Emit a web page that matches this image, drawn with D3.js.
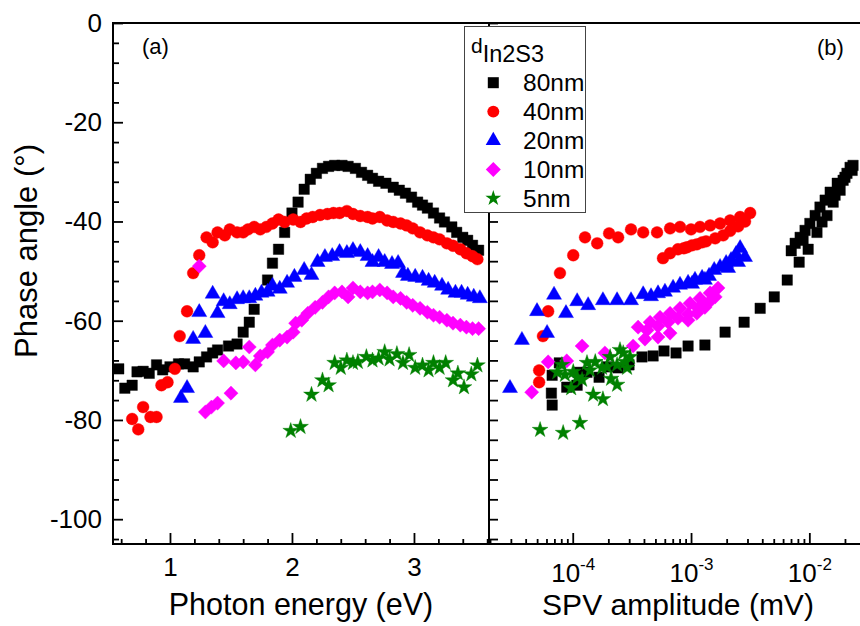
<!DOCTYPE html>
<html>
<head>
<meta charset="utf-8">
<script src="https://cdn.jsdelivr.net/npm/d3@7"></script>
<style>
  html, body { margin: 0; padding: 0; background: #fff; }
  svg text { font-family: "Liberation Sans", Arial, sans-serif; fill: #000; }
</style>
</head>
<body>
<svg id="chart" width="860" height="626"></svg>
<script>
// ---- Panel (a): phase angle (deg) vs photon energy (eV) ----
const a80 = [[0.58,-69.7],[0.63,-73.6],[0.69,-73.0],[0.73,-70.3],[0.78,-70.2],[0.83,-70.6],[0.89,-68.9],[0.94,-69.9],[1.00,-69.3],[1.07,-68.7],[1.12,-68.7],[1.19,-69.3],[1.24,-68.3],[1.30,-67.3],[1.35,-66.5],[1.39,-65.9],[1.48,-65.1],[1.55,-64.7],[1.60,-62.3],[1.65,-60.3],[1.69,-57.7],[1.80,-51.8],[1.84,-48.4],[1.89,-45.6],[1.94,-42.2],[2.00,-38.3],[2.05,-36.1],[2.10,-33.5],[2.15,-31.5],[2.20,-30.3],[2.25,-29.3],[2.30,-28.9],[2.35,-28.7],[2.41,-28.7],[2.46,-28.9],[2.52,-29.3],[2.57,-30.1],[2.62,-30.7],[2.66,-31.3],[2.71,-31.9],[2.77,-32.3],[2.83,-33.1],[2.88,-33.7],[2.93,-34.3],[2.98,-35.1],[3.03,-36.1],[3.07,-36.7],[3.11,-37.3],[3.16,-38.3],[3.21,-39.3],[3.25,-40.1],[3.31,-41.1],[3.35,-42.2],[3.40,-43.2],[3.44,-43.8],[3.48,-44.8],[3.53,-45.8]];
const a40 = [[0.69,-79.8],[0.74,-81.9],[0.78,-77.4],[0.84,-79.4],[0.89,-79.4],[0.93,-73.0],[0.98,-72.4],[1.04,-69.7],[1.08,-63.1],[1.14,-58.1],[1.19,-50.4],[1.24,-46.8],[1.30,-43.2],[1.35,-44.2],[1.39,-42.2],[1.45,-42.8],[1.49,-41.6],[1.55,-42.2],[1.60,-42.2],[1.64,-41.6],[1.69,-41.1],[1.74,-41.6],[1.79,-41.1],[1.84,-40.4],[1.89,-39.6],[1.94,-40.1],[2.01,-39.6],[2.07,-40.1],[2.12,-39.4],[2.17,-39.1],[2.23,-38.7],[2.29,-38.5],[2.34,-38.3],[2.39,-38.3],[2.45,-37.9],[2.50,-38.5],[2.56,-38.9],[2.62,-39.1],[2.66,-39.4],[2.72,-39.1],[2.78,-39.8],[2.83,-40.1],[2.89,-40.4],[2.94,-40.8],[2.99,-41.4],[3.05,-42.2],[3.11,-42.8],[3.16,-43.2],[3.21,-43.6],[3.27,-44.4],[3.32,-44.9],[3.38,-45.6],[3.43,-46.4],[3.48,-47.0],[3.52,-47.6]];
const a20 = [[1.09,-75.6],[1.14,-73.6],[1.19,-63.7],[1.24,-58.3],[1.29,-62.5],[1.35,-54.6],[1.39,-58.5],[1.44,-56.1],[1.49,-56.7],[1.55,-55.7],[1.60,-55.5],[1.65,-55.5],[1.70,-55.0],[1.75,-54.4],[1.80,-54.2],[1.84,-53.0],[1.90,-53.6],[1.96,-52.4],[2.02,-51.2],[2.10,-49.8],[2.16,-50.8],[2.21,-48.2],[2.27,-47.2],[2.33,-47.0],[2.39,-46.2],[2.45,-46.4],[2.50,-45.8],[2.56,-46.2],[2.62,-47.0],[2.66,-48.2],[2.71,-47.2],[2.76,-48.2],[2.82,-48.6],[2.87,-48.4],[2.91,-50.4],[2.95,-51.0],[3.01,-51.2],[3.07,-51.4],[3.12,-52.0],[3.17,-52.4],[3.23,-53.0],[3.28,-53.8],[3.34,-54.4],[3.39,-54.4],[3.44,-54.8],[3.49,-55.2],[3.54,-55.5]];
const a10 = [[1.24,-49.0],[1.29,-78.4],[1.34,-77.4],[1.39,-76.6],[1.50,-74.6],[1.44,-68.1],[1.54,-68.5],[1.60,-68.3],[1.65,-65.3],[1.70,-68.9],[1.74,-67.1],[1.80,-66.3],[1.84,-64.9],[1.90,-63.9],[1.96,-63.3],[2.01,-62.3],[2.03,-60.5],[2.08,-59.9],[2.13,-58.5],[2.19,-57.3],[2.25,-56.3],[2.30,-55.2],[2.35,-54.4],[2.41,-54.2],[2.46,-55.2],[2.50,-53.4],[2.56,-54.2],[2.62,-54.4],[2.66,-54.2],[2.72,-53.8],[2.78,-54.4],[2.83,-55.2],[2.89,-55.5],[2.94,-56.3],[2.99,-56.9],[3.05,-57.5],[3.11,-58.3],[3.16,-58.9],[3.21,-59.3],[3.27,-59.9],[3.32,-60.5],[3.38,-60.9],[3.43,-61.3],[3.48,-61.6],[3.53,-61.6]];
const a5 = [[1.99,-82.2],[2.07,-81.4],[2.16,-74.9],[2.25,-72.0],[2.30,-73.0],[2.35,-68.5],[2.40,-69.5],[2.45,-68.0],[2.50,-68.5],[2.54,-68.3],[2.61,-67.3],[2.66,-68.0],[2.71,-67.6],[2.76,-66.3],[2.80,-67.8],[2.86,-66.7],[2.91,-68.5],[2.96,-66.9],[3.01,-69.5],[3.07,-69.0],[3.12,-70.0],[3.16,-68.5],[3.21,-69.5],[3.26,-68.5],[3.32,-72.0],[3.36,-70.6],[3.41,-73.4],[3.47,-70.8],[3.52,-69.0]];

// ---- Panel (b): phase angle (deg) vs SPV amplitude (mV) ----
const b80 = [[6.7e-5,-77.0],[6.6e-5,-74.6],[6.7e-5,-71.0],[7.7e-5,-68.5],[8.9e-5,-73.4],[1.09e-4,-73.0],[1.11e-4,-70.4],[1.32e-4,-70.4],[1.67e-4,-71.4],[1.99e-4,-69.3],[2.42e-4,-69.5],[2.99e-4,-68.9],[3.85e-4,-67.3],[4.78e-4,-67.1],[5.91e-4,-66.1],[7.47e-4,-66.5],[9.44e-4,-65.1],[1.31e-3,-64.9],[1.94e-3,-62.3],[2.81e-3,-60.3],[3.84e-3,-57.5],[5.05e-3,-55.2],[6.50e-3,-51.8],[8.20e-3,-48.2],[7.03e-3,-45.9],[9.77e-3,-45.6],[7.59e-3,-44.4],[8.36e-3,-43.2],[8.85e-3,-43.8],[9.20e-3,-41.8],[1.16e-2,-42.2],[1.01e-2,-40.4],[1.28e-2,-40.1],[1.12e-2,-38.8],[1.41e-2,-38.8],[1.23e-2,-37.1],[1.36e-2,-35.7],[1.59e-2,-36.1],[1.50e-2,-34.1],[1.65e-2,-34.7],[1.82e-2,-33.7],[1.72e-2,-32.3],[1.93e-2,-31.7],[2.00e-2,-31.1],[2.08e-2,-30.3],[2.30e-2,-29.7],[2.21e-2,-29.1],[2.34e-2,-28.7]];
const b40 = [[5.2e-5,-72.4],[5.2e-5,-70.0],[5.6e-5,-63.1],[6.2e-5,-58.1],[7.8e-5,-50.4],[1.01e-4,-46.8],[1.27e-4,-43.2],[1.61e-4,-44.4],[2.03e-4,-42.4],[2.42e-4,-43.2],[3.11e-4,-41.6],[3.94e-4,-42.2],[5.16e-4,-42.2],[6.65e-4,-41.4],[8.07e-4,-41.1],[1.00e-3,-41.6],[1.19e-3,-41.1],[1.45e-3,-40.8],[1.76e-3,-40.4],[2.14e-3,-39.8],[2.60e-3,-39.1],[3.16e-3,-38.3],[2.86e-3,-40.0],[2.50e-3,-41.0],[2.14e-3,-41.9],[1.87e-3,-42.8],[1.60e-3,-43.4],[1.34e-3,-44.0],[1.24e-3,-44.2],[1.12e-3,-44.6],[1.02e-3,-44.8],[9.25e-4,-45.2],[8.70e-4,-45.4],[7.76e-4,-45.6],[6.65e-4,-46.4],[5.79e-4,-47.4]];
const b20 = [[2.95e-5,-73.6],[3.72e-5,-63.9],[4.99e-5,-58.1],[6.07e-5,-62.5],[6.95e-5,-54.8],[8.77e-5,-58.5],[1.09e-4,-56.1],[1.35e-4,-56.9],[1.80e-4,-55.9],[2.37e-4,-55.9],[3.11e-4,-55.9],[3.94e-4,-54.7],[4.59e-4,-55.1],[5.26e-4,-54.5],[6.02e-4,-54.2],[7.05e-4,-53.4],[8.07e-4,-52.8],[9.44e-4,-52.4],[1.02e-3,-52.6],[1.08e-3,-51.8],[1.24e-3,-51.4],[1.31e-3,-51.8],[1.42e-3,-51.0],[1.57e-3,-49.8],[1.76e-3,-49.2],[1.98e-3,-48.4],[2.06e-3,-49.4],[2.18e-3,-47.8],[2.40e-3,-46.6],[2.50e-3,-48.2],[2.60e-3,-45.4],[2.86e-3,-47.2]];
const b10 = [[4.5e-5,-74.4],[6.2e-5,-68.3],[8.9e-5,-68.1],[1.20e-4,-65.1],[1.87e-4,-66.5],[3.24e-4,-65.1],[3.57e-4,-61.3],[4.08e-4,-63.7],[4.25e-4,-61.9],[4.51e-4,-60.3],[5.26e-4,-63.3],[5.26e-4,-61.1],[5.47e-4,-59.3],[6.40e-4,-60.3],[6.65e-4,-62.5],[6.65e-4,-58.5],[7.76e-4,-59.5],[8.07e-4,-57.5],[9.44e-4,-58.7],[9.44e-4,-59.9],[9.81e-4,-56.5],[1.12e-3,-58.5],[1.15e-3,-57.5],[1.19e-3,-55.5],[1.31e-3,-57.3],[1.39e-3,-56.5],[1.45e-3,-54.4],[1.60e-3,-55.2],[1.69e-3,-53.4]];
const b5 = [[5.3e-5,-82.0],[8.3e-5,-82.6],[1.15e-4,-80.6],[1.49e-4,-74.9],[1.80e-4,-75.8],[2.37e-4,-72.9],[2.11e-4,-71.7],[9.7e-5,-73.6],[1.20e-4,-71.9],[8.1e-5,-68.9],[8.6e-5,-70.9],[1.01e-4,-70.3],[1.32e-4,-68.5],[1.55e-4,-68.3],[1.77e-4,-69.5],[2.07e-4,-67.3],[2.37e-4,-68.9],[2.67e-4,-66.5],[2.77e-4,-68.3],[2.88e-4,-69.5],[2.51e-4,-65.9],[3.05e-4,-67.3],[1.95e-4,-69.3],[1.40e-4,-70.0],[1.09e-4,-71.4],[7.4e-5,-70.4]];

// ---- series labels and tick values ----
const thicknessLabels = ["80nm", "40nm", "20nm", "10nm", "5nm"];
const seriesColors = ["#000000", "#ff0000", "#0000ff", "#ff00ff", "#008000"];
const energyMajorTicks = [1, 2, 3];
const energyMinorTicks = [0.6, 0.8, 1.2, 1.4, 1.6, 1.8, 2.2, 2.4, 2.6, 2.8, 3.2, 3.4, 3.6];
const phaseMajorTicks = [0, -20, -40, -60, -80, -100];
const phaseMinorTicks = d3.range(-104, 1, 4).filter(v => v % 20 !== 0);
const ampMajorTicks = [1e-4, 1e-3, 1e-2];
const ampMinorTicks = [2e-5,3e-5,4e-5,5e-5,6e-5,7e-5,8e-5,9e-5,2e-4,3e-4,4e-4,5e-4,6e-4,7e-4,8e-4,9e-4,2e-3,3e-3,4e-3,5e-3,6e-3,7e-3,8e-3,9e-3,2e-2];

// ---- layout ----
const frame = { left: 113, mid: 489, right: 860, top: 23, bottom: 544 };
const FONT = '"Liberation Sans", Arial, sans-serif';
const plainNumber = d => String(d);   // keeps an ASCII hyphen for negatives

const svg = d3.select("#chart");

const xA = d3.scaleLinear().domain([0.533, 3.615]).range([frame.left, frame.mid]);
const xB = d3.scaleLog().domain([1.96e-5, 2.68e-2]).range([frame.mid, frame.right]);
const y = d3.scaleLinear().domain([-105, 0]).range([frame.bottom, frame.top]);

// marker shapes: square, circle, triangle, diamond, star
const shapes = [
  { type: d3.symbolSquare,   plot: 110, legend: 121, rot: 0 },
  { type: d3.symbolCircle,   plot: 110, legend: 112, rot: 0 },
  { type: d3.symbolTriangle, plot: 98,  legend: 100, rot: 0 },
  { type: d3.symbolSquare,   plot: 100, legend: 112, rot: 45 },
  { type: d3.symbolStar,     plot: 78,  legend: 78,  rot: 0 }
];

function styleTicks(g) {
  g.select(".domain").remove();
  g.selectAll(".tick line").attr("stroke", "#000").attr("stroke-width", 1.8);
  g.attr("font-family", FONT).attr("font-size", 26);
}

// ---- axes: panel (a) ----
svg.append("g").attr("transform", `translate(0,${frame.bottom})`)
  .call(d3.axisBottom(xA).tickValues(energyMajorTicks).tickSize(-11).tickPadding(13.5).tickFormat(plainNumber))
  .call(styleTicks);
svg.append("g").attr("transform", `translate(0,${frame.bottom})`)
  .call(d3.axisBottom(xA).tickValues(energyMinorTicks).tickSize(-5).tickFormat(""))
  .call(styleTicks);
svg.append("g").attr("transform", `translate(${frame.left},0)`)
  .call(d3.axisLeft(y).tickValues(phaseMajorTicks).tickSize(-10).tickPadding(11).tickFormat(plainNumber))
  .call(styleTicks);
svg.append("g").attr("transform", `translate(${frame.left},0)`)
  .call(d3.axisLeft(y).tickValues(phaseMinorTicks).tickSize(-6).tickFormat(""))
  .call(styleTicks);

// ---- axes: panel (b) ----
const gB = svg.append("g").attr("transform", `translate(0,${frame.bottom})`)
  .call(d3.axisBottom(xB).tickValues(ampMajorTicks).tickSize(-11).tickPadding(19.5).tickFormat(""))
  .call(styleTicks);
gB.selectAll(".tick text").each(function(d) {
  const t = d3.select(this);
  t.append("tspan").text("10");
  t.append("tspan").attr("dy", -12).attr("font-size", 17).text(String(Math.round(Math.log10(d))));
});
svg.append("g").attr("transform", `translate(0,${frame.bottom})`)
  .call(d3.axisBottom(xB).tickValues(ampMinorTicks).tickSize(-5).tickFormat(""))
  .call(styleTicks);
svg.append("g").attr("transform", `translate(${frame.mid},0)`)
  .call(d3.axisRight(y).tickValues(d3.range(-104, 1, 4)).tickSize(9).tickFormat(""))
  .call(styleTicks);

// ---- frame lines ----
const frameLines = [
  [frame.left, frame.top, frame.right, frame.top],
  [frame.left, frame.bottom, frame.right, frame.bottom],
  [frame.left, frame.top, frame.left, frame.bottom],
  [frame.mid, frame.top, frame.mid, frame.bottom]
];
svg.append("g").selectAll("line").data(frameLines).join("line")
  .attr("x1", d => d[0]).attr("y1", d => d[1]).attr("x2", d => d[2]).attr("y2", d => d[3])
  .attr("stroke", "#000").attr("stroke-width", 2).attr("stroke-linecap", "square");

// ---- markers ----
function drawSeries(data, xScale, idx) {
  const s = shapes[idx];
  const sym = d3.symbol().type(s.type).size(s.plot);
  svg.append("g").selectAll("path").data(data).join("path")
    .attr("d", sym)
    .attr("transform", d => `translate(${xScale(d[0])},${y(d[1])}) rotate(${s.rot})`)
    .attr("fill", seriesColors[idx])
    .attr("stroke", seriesColors[idx]).attr("stroke-width", 0.4);
}
[a80, a40, a20, a10, a5].forEach((data, i) => drawSeries(data, xA, i));
[b80, b40, b20, b10, b5].forEach((data, i) => drawSeries(data, xB, i));

// ---- legend ----
const lg = svg.append("g");
lg.append("rect").attr("x", 464.5).attr("y", 26.5).attr("width", 121).attr("height", 186)
  .attr("fill", "#fff").attr("stroke", "#444").attr("stroke-width", 1);
const title = lg.append("text").attr("x", 471).attr("y", 53).attr("font-family", FONT);
title.append("tspan").attr("font-size", 21).text("d");
title.append("tspan").attr("font-size", 23.5).attr("dy", 9).text("In2S3");
thicknessLabels.forEach((label, i) => {
  const cy = 82.7 + i * 28.9;
  const s = shapes[i];
  lg.append("path")
    .attr("d", d3.symbol().type(s.type).size(s.legend)())
    .attr("transform", `translate(493.3,${cy}) rotate(${s.rot})`)
    .attr("fill", seriesColors[i]);
  lg.append("text").attr("x", 523).attr("y", cy + 8.3)
    .attr("font-family", FONT).attr("font-size", 24.5).text(label);
});

// ---- panel tags and axis titles ----
svg.append("text").attr("x", 142).attr("y", 54).attr("font-size", 22).text("(a)");
svg.append("text").attr("x", 817).attr("y", 55).attr("font-size", 22).text("(b)");
svg.append("text").attr("x", 301).attr("y", 615).attr("text-anchor", "middle")
  .attr("font-size", 30.5).text("Photon energy (eV)");
svg.append("text").attr("x", 678).attr("y", 615).attr("text-anchor", "middle")
  .attr("font-size", 30).text("SPV amplitude (mV)");
svg.append("text").attr("transform", "translate(37,251) rotate(-90)").attr("text-anchor", "middle")
  .attr("font-size", 31).text("Phase angle (°)");
</script>
</body>
</html>
